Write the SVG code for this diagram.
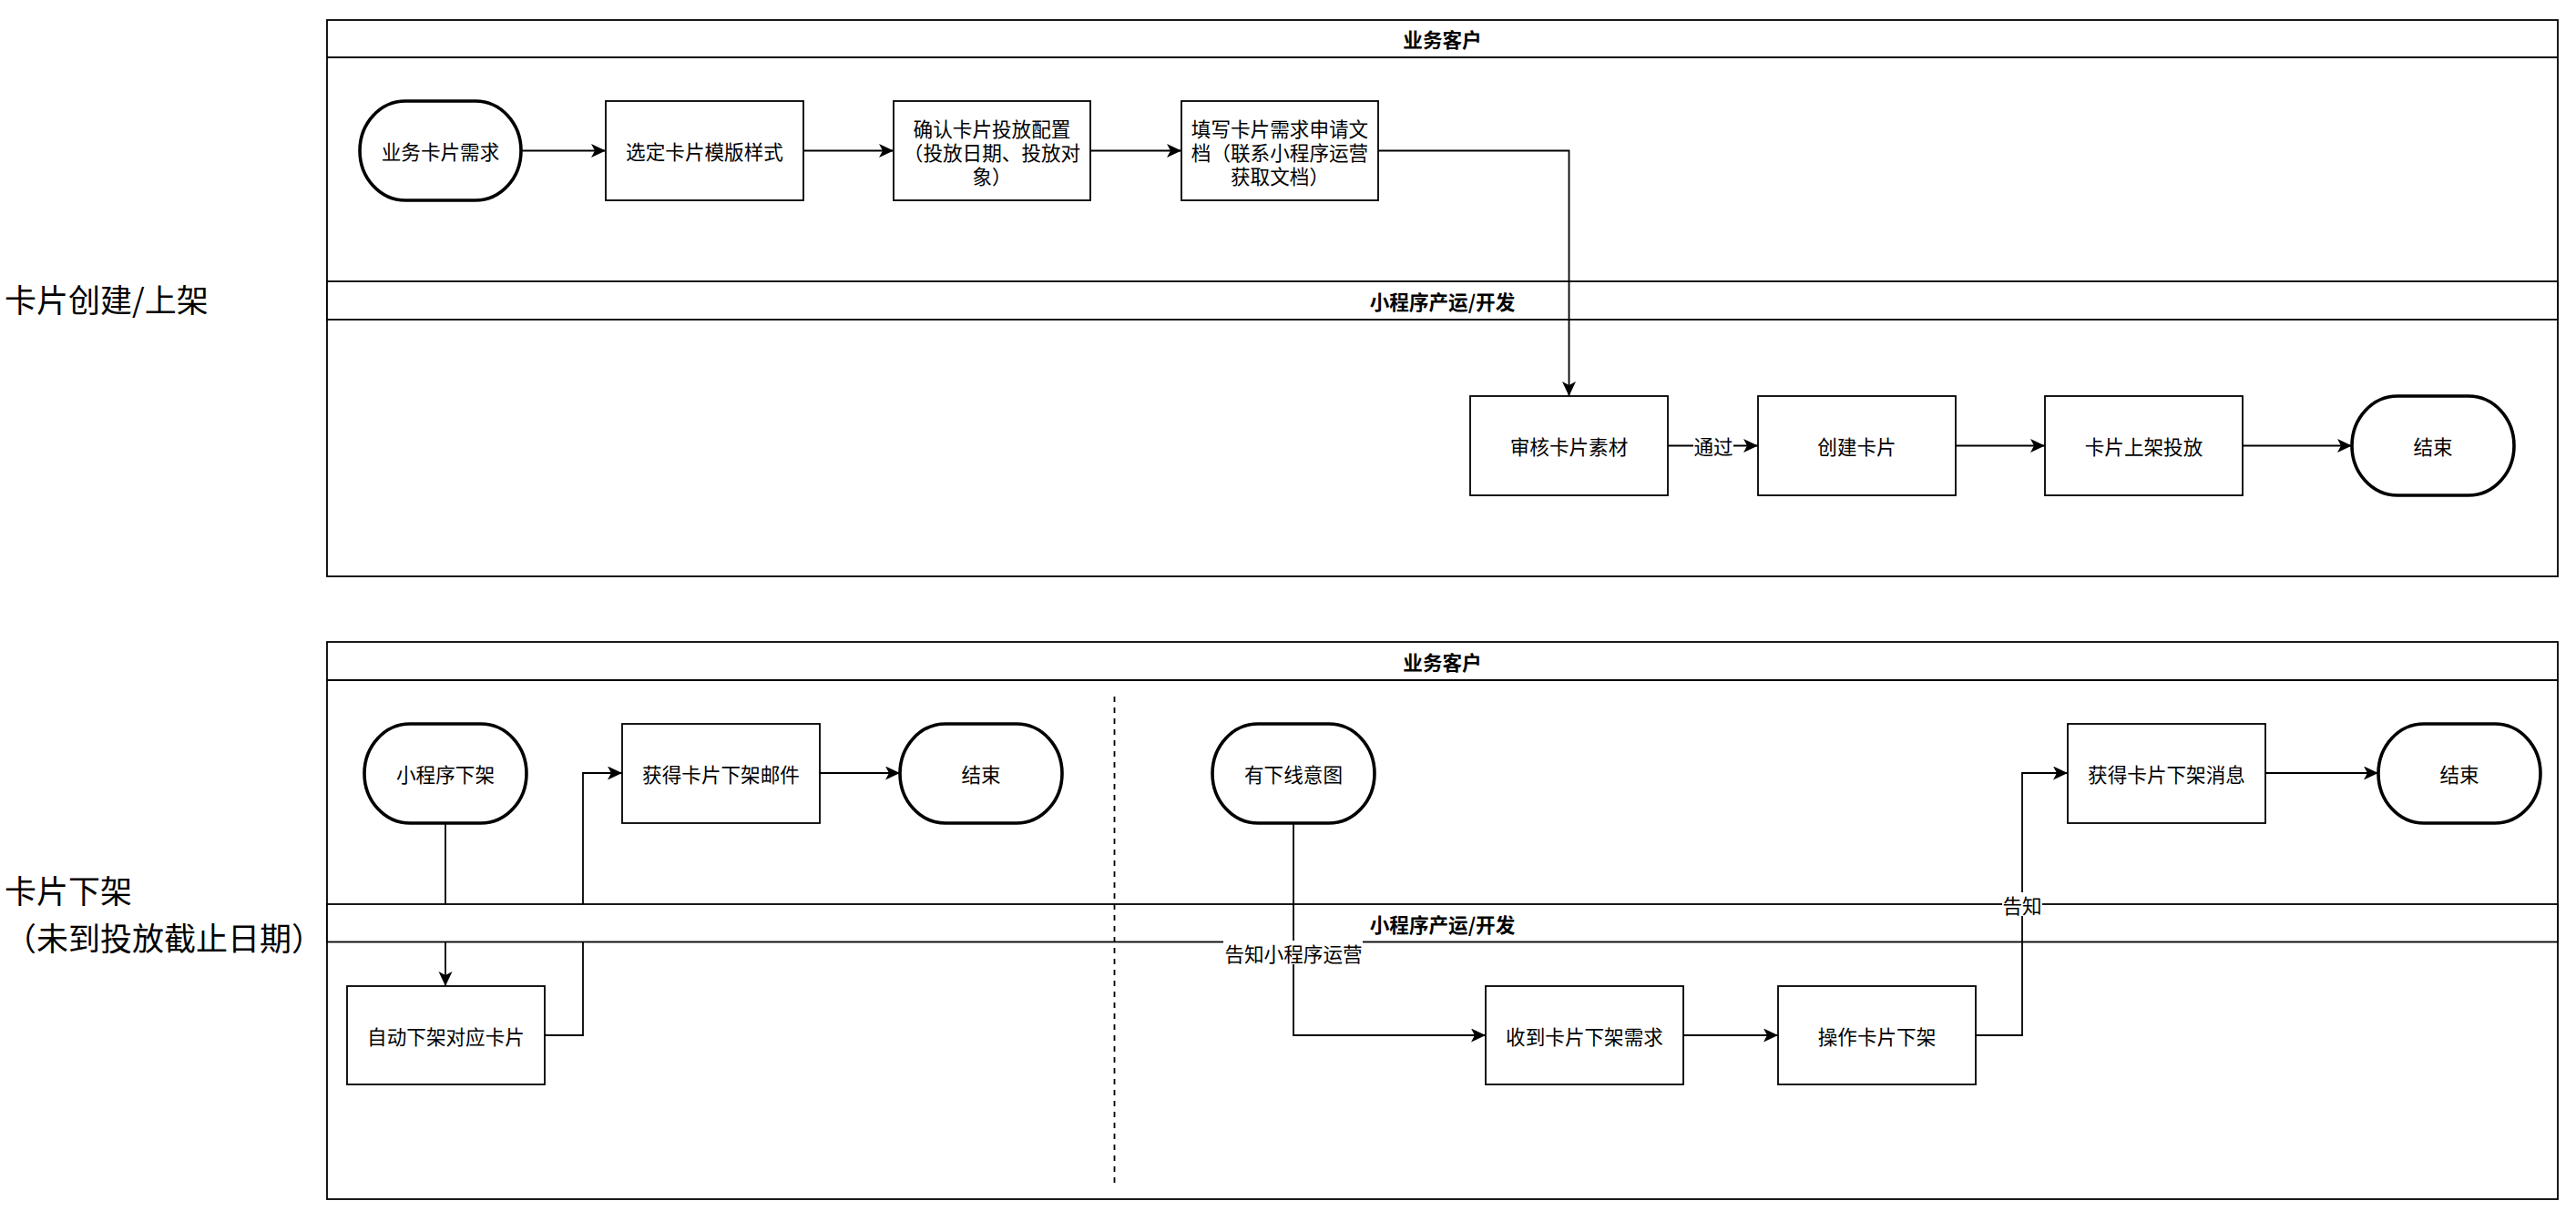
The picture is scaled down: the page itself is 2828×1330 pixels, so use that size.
<svg xmlns="http://www.w3.org/2000/svg" width="2828" height="1330" viewBox="0 0 2828 1330">
<style>
text{font-family:"Noto Sans CJK SC","Noto Sans",sans-serif;fill:#000}
.n{font-size:21.6px;text-anchor:middle;dominant-baseline:central}
.h{font-size:21.6px;font-weight:bold;text-anchor:middle;dominant-baseline:central}
.big{font-size:35px;dominant-baseline:central}
.pool{fill:#fff;stroke:#000;stroke-width:1.8}
.line{fill:none;stroke:#000;stroke-width:1.8}
.box{fill:#fff;stroke:#000;stroke-width:1.8}
.term{fill:#fff;stroke:#000;stroke-width:3.6}
.edge{fill:none;stroke:#000;stroke-width:1.8}
.lblbg{fill:#fff;stroke:none}
</style>
<defs>
<marker id="arr" markerUnits="userSpaceOnUse" markerWidth="18" markerHeight="16" refX="16" refY="7.5" orient="auto">
<path d="M0,0 L16,7.5 L0,15 L4,7.5 Z" fill="#000"/>
</marker>
</defs>
<rect width="2828" height="1330" fill="#fff"/>

<g id="section-labels">
<text class="big" x="5" y="327">卡片创建/上架</text>
<text class="big" x="5" y="976">卡片下架</text>
<text class="big" x="5" y="1028">（未到投放截止日期）</text>
</g>

<g id="pool-top">
<rect class="pool" x="359" y="22" width="2449" height="611"/>
<line class="line" x1="359" y1="63" x2="2808" y2="63"/>
<text class="h" x="1583.5" y="42.5">业务客户</text>
<rect class="pool" x="359" y="309" width="2449" height="42"/>
<text class="h" x="1583.5" y="330">小程序产运/开发</text>
</g>

<g id="pool-bottom">
<rect class="pool" x="359" y="705" width="2449" height="612"/>
<line class="line" x1="359" y1="747" x2="2808" y2="747"/>
<text class="h" x="1583.5" y="726">业务客户</text>
</g>

<g id="connectors-left">
<path class="edge" d="M489,904 L489,1083" marker-end="url(#arr)"/>
<path class="edge" d="M598,1137 L640,1137 L640,849 L683,849" marker-end="url(#arr)"/>
</g>

<g id="pool-bottom-lane2-header">
<rect class="pool" x="359" y="993" width="2449" height="41.5"/>
<text class="h" x="1583.5" y="1014">小程序产运/开发</text>
</g>

<g id="divider">
<line x1="1223.5" y1="765" x2="1223.5" y2="1303" stroke="#000" stroke-width="1.8" stroke-dasharray="6 6"/>
</g>

<g id="connectors">
<path class="edge" d="M572,165.5 L665,165.5" marker-end="url(#arr)"/>
<path class="edge" d="M882,165.5 L981,165.5" marker-end="url(#arr)"/>
<path class="edge" d="M1197,165.5 L1297,165.5" marker-end="url(#arr)"/>
<path class="edge" d="M1513,165.5 L1722.5,165.5 L1722.5,435" marker-end="url(#arr)"/>
<path class="edge" d="M1831,489.5 L1930,489.5" marker-end="url(#arr)"/>
<rect class="lblbg" x="1859" y="477" width="44" height="25"/>
<text class="n" x="1881" y="489.5">通过</text>
<path class="edge" d="M2147,489.5 L2245,489.5" marker-end="url(#arr)"/>
<path class="edge" d="M2462,489.5 L2582,489.5" marker-end="url(#arr)"/>

<path class="edge" d="M900,849 L988,849" marker-end="url(#arr)"/>
<path class="edge" d="M1420,904 L1420,1137 L1631,1137" marker-end="url(#arr)"/>
<rect class="lblbg" x="1343" y="1033" width="153" height="26"/>
<text class="n" x="1420" y="1046">告知小程序运营</text>
<path class="edge" d="M1848,1137 L1952,1137" marker-end="url(#arr)"/>
<path class="edge" d="M2169,1137 L2220,1137 L2220,849 L2270,849" marker-end="url(#arr)"/>
<rect class="lblbg" x="2198" y="980" width="44" height="26"/>
<text class="n" x="2220" y="993">告知</text>
<path class="edge" d="M2487,849 L2611,849" marker-end="url(#arr)"/>
</g>

<g id="n-yewu-xuqiu"><rect class="term" x="395" y="111" width="177" height="109" rx="50" ry="54.5"/><text class="n" x="483.5" y="165.5">业务卡片需求</text></g>
<g id="n-xuanding"><rect class="box" x="665" y="111" width="217" height="109"/><text class="n" x="773.5" y="165.5">选定卡片模版样式</text></g>
<g id="n-queren"><rect class="box" x="981" y="111" width="216" height="109"/><text class="n" x="1089" y="140">确认卡片投放配置</text><text class="n" x="1089" y="166">（投放日期、投放对</text><text class="n" x="1089" y="192">象）</text></g>
<g id="n-tianxie"><rect class="box" x="1297" y="111" width="216" height="109"/><text class="n" x="1405" y="140">填写卡片需求申请文</text><text class="n" x="1405" y="166">档（联系小程序运营</text><text class="n" x="1405" y="192">获取文档）</text></g>
<g id="n-shenhe"><rect class="box" x="1614" y="435" width="217" height="109"/><text class="n" x="1722.5" y="489.5">审核卡片素材</text></g>
<g id="n-chuangjian"><rect class="box" x="1930" y="435" width="217" height="109"/><text class="n" x="2038.5" y="489.5">创建卡片</text></g>
<g id="n-shangjia"><rect class="box" x="2245" y="435" width="217" height="109"/><text class="n" x="2353.5" y="489.5">卡片上架投放</text></g>
<g id="n-end1"><rect class="term" x="2582" y="435" width="178" height="109" rx="50" ry="54.5"/><text class="n" x="2671" y="489.5">结束</text></g>

<g id="n-xcx-xiajia"><rect class="term" x="400" y="795" width="178" height="109" rx="50" ry="54.5"/><text class="n" x="489" y="849.5">小程序下架</text></g>
<g id="n-youjian"><rect class="box" x="683" y="795" width="217" height="109"/><text class="n" x="791.5" y="849.5">获得卡片下架邮件</text></g>
<g id="n-end2"><rect class="term" x="988" y="795" width="178" height="109" rx="50" ry="54.5"/><text class="n" x="1077" y="849.5">结束</text></g>
<g id="n-zidong"><rect class="box" x="381" y="1083" width="217" height="108"/><text class="n" x="489.5" y="1137">自动下架对应卡片</text></g>
<g id="n-yitu"><rect class="term" x="1331" y="795" width="178" height="109" rx="50" ry="54.5"/><text class="n" x="1420" y="849.5">有下线意图</text></g>
<g id="n-shoudao"><rect class="box" x="1631" y="1083" width="217" height="108"/><text class="n" x="1739.5" y="1137">收到卡片下架需求</text></g>
<g id="n-caozuo"><rect class="box" x="1952" y="1083" width="217" height="108"/><text class="n" x="2060.5" y="1137">操作卡片下架</text></g>
<g id="n-xiaoxi"><rect class="box" x="2270" y="795" width="217" height="109"/><text class="n" x="2378.5" y="849.5">获得卡片下架消息</text></g>
<g id="n-end3"><rect class="term" x="2611" y="795" width="178" height="109" rx="50" ry="54.5"/><text class="n" x="2700" y="849.5">结束</text></g>
</svg>
